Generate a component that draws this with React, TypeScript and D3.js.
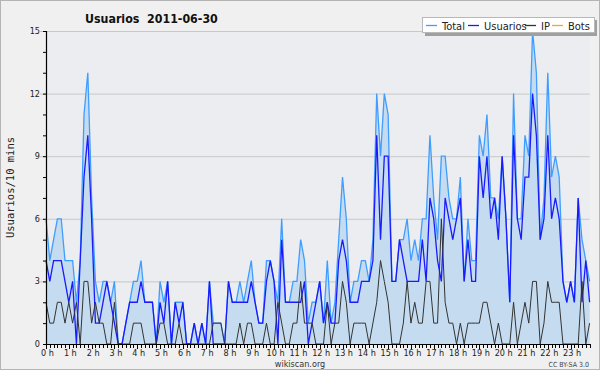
import * as d3 from 'd3';
import React, { useRef, useEffect } from 'react';

// 10-minute slots, 6 per hour, 0 h .. 23 h 50
const usuarios = [
  4, 3, 4, 4, 4, 3,
  2, 3, 0, 4, 8, 10,
  6, 1, 1, 2, 3, 2,
  1, 0, 0, 1, 2, 2,
  2, 3, 2, 2, 2, 0,
  2, 1, 3, 0, 2, 1,
  2, 0, 0, 1, 0, 1,
  0, 3, 0, 0, 0, 0,
  3, 2, 2, 2, 2, 2,
  3, 2, 1, 1, 3, 4,
  3, 0, 5, 2, 2, 2,
  2, 2, 3, 0, 1, 2,
  3, 1, 2, 1, 1, 4,
  5, 4, 2, 2, 2, 3,
  3, 3, 4, 10, 5, 9,
  9, 3, 3, 5, 4, 3,
  3, 3, 3, 5, 3, 7,
  6, 4, 3, 7, 6, 5,
  6, 7, 3, 5, 3, 3,
  9, 7, 9, 6, 7, 5,
  9, 6, 2, 10, 6, 5,
  8, 8, 12, 10, 5, 6,
  10, 6, 7, 6, 3, 2,
  3, 2, 7, 2, 4, 2
];

const ip = [
  2, 1, 1, 2, 2, 1,
  2, 1, 2, 0, 3, 3,
  1, 2, 1, 1, 0, 0,
  2, 0, 0, 0, 0, 1,
  1, 1, 0, 0, 0, 0,
  1, 1, 0, 0, 0, 1,
  0, 0, 0, 0, 0, 0,
  0, 0, 1, 1, 1, 0,
  0, 0, 0, 1, 0, 1,
  1, 0, 0, 0, 1, 0,
  0, 2, 1, 0, 0, 1,
  1, 3, 1, 1, 1, 0,
  0, 0, 2, 0, 1, 1,
  3, 2, 0, 1, 1, 1,
  1, 0, 1, 2, 4, 3,
  2, 0, 0, 0, 1, 3,
  1, 2, 1, 1, 3, 3,
  1, 1, 6, 2, 1, 1,
  0, 1, 0, 1, 1, 1,
  1, 2, 2, 1, 0, 1,
  0, 0, 0, 2, 0, 1,
  2, 1, 3, 3, 0, 1,
  3, 2, 2, 2, 0, 0,
  0, 0, 0, 3, 0, 1
];

const total = [
  6, 4, 5, 6, 6, 4,
  4, 4, 2, 4, 11, 13,
  7, 3, 2, 3, 3, 2,
  3, 0, 0, 1, 2, 3,
  3, 4, 2, 2, 2, 0,
  3, 2, 3, 0, 2, 2,
  2, 0, 0, 1, 0, 1,
  0, 3, 1, 1, 1, 0,
  3, 2, 2, 3, 2, 3,
  4, 2, 1, 1, 4, 4,
  3, 2, 6, 2, 2, 3,
  3, 5, 4, 1, 2, 2,
  3, 1, 4, 1, 2, 5,
  8, 6, 2, 3, 3, 4,
  4, 3, 5, 12, 9, 12,
  11, 3, 3, 5, 5, 6,
  4, 5, 4, 6, 6, 10,
  7, 5, 9, 9, 7, 6,
  6, 8, 3, 6, 4, 4,
  10, 9, 11, 7, 7, 6,
  9, 6, 2, 12, 6, 6,
  10, 9, 15, 13, 5, 7,
  13, 8, 9, 8, 3, 2,
  3, 2, 7, 5, 4, 3
];

const hourLabels = [
  '0 h', '1 h', '2 h', '3 h', '4 h', '5 h', '6 h', '7 h', '8 h', '9 h', '10 h', '11 h',
  '12 h', '13 h', '14 h', '15 h', '16 h', '17 h', '18 h', '19 h', '20 h', '21 h', '22 h', '23 h'
];
const yTicks = [0, 3, 6, 9, 12, 15];

const legendItems = [
  { name: 'Total', color: '#3f9dff' },
  { name: 'Usuarios', color: '#1a1aff' },
  { name: 'IP', color: '#333333' },
  { name: 'Bots', color: '#ffa31a' }
];

const width = 600;
const height = 370;
const plot = { left: 46, right: 589.6, top: 31, bottom: 344 };
const font = '"DejaVu Sans Condensed", "DejaVu Sans", sans-serif';

const App = () => {
  const svgRef = useRef(null);

  useEffect(() => {
    document.body.style.margin = '0';

    const xScale = d3.scaleLinear()
      .domain([0, total.length - 1])
      .range([plot.left, plot.right]);
    const yScale = d3.scaleLinear()
      .domain([0, 15])
      .range([plot.bottom, plot.top]);

    const svg = d3.select(svgRef.current);
    svg.selectAll('*').remove();

    // background + frame
    svg.append('rect')
      .attr('x', 0.5).attr('y', 0.5)
      .attr('width', width - 1).attr('height', height - 1)
      .attr('fill', '#f0f0f0')
      .attr('stroke', '#b4b4b4');
    svg.append('rect')
      .attr('x', plot.left).attr('y', plot.top)
      .attr('width', plot.right - plot.left).attr('height', plot.bottom - plot.top)
      .attr('fill', '#ecedf0');

    // title
    svg.append('text')
      .attr('x', 85).attr('y', 23)
      .attr('font-family', font)
      .attr('font-weight', 'bold')
      .attr('font-size', 12.3)
      .attr('fill', '#111')
      .style('white-space', 'pre')
      .text('Usuarios  2011-06-30');

    // grid
    yTicks.filter(v => v > 0).forEach(v => {
      svg.append('line')
        .attr('x1', plot.left - 6).attr('x2', plot.right)
        .attr('y1', yScale(v) + 0.5).attr('y2', yScale(v) + 0.5)
        .attr('stroke', '#c8c8c8').attr('stroke-width', 1);
    });

    // minor y ticks
    d3.range(0, 16).forEach(v => {
      svg.append('line')
        .attr('x1', plot.left - 3).attr('x2', plot.left)
        .attr('y1', yScale(v) + 0.5).attr('y2', yScale(v) + 0.5)
        .attr('stroke', '#000');
    });

    yTicks.forEach(v => {
      svg.append('text')
        .attr('x', plot.left - 6).attr('y', yScale(v) + 3)
        .attr('text-anchor', 'end')
        .attr('font-family', font).attr('font-size', 9)
        .attr('fill', '#222')
        .text(v);
    });

    // area under total
    svg.append('path')
      .attr('fill', '#c5dcf0')
      .attr('d', d3.area<number>()
        .x((_, i) => xScale(i))
        .y0(yScale(0))
        .y1(d => yScale(d))(total));

    const line = d3.line<number>()
      .x((_, i) => xScale(i))
      .y(d => yScale(d));

    svg.append('path')
      .attr('fill', 'none').attr('stroke', legendItems[0].color).attr('stroke-width', 1.3)
      .attr('d', line(total));
    svg.append('path')
      .attr('fill', 'none').attr('stroke', legendItems[1].color).attr('stroke-width', 1.3)
      .attr('d', line(usuarios));
    svg.append('path')
      .attr('fill', 'none').attr('stroke', legendItems[2].color).attr('stroke-width', 1)
      .attr('d', line(ip));

    // axes
    svg.append('line')
      .attr('x1', plot.left + 0.5).attr('x2', plot.left + 0.5)
      .attr('y1', plot.top).attr('y2', plot.bottom + 1)
      .attr('stroke', '#000').attr('stroke-width', 1.2);
    svg.append('line')
      .attr('x1', plot.left).attr('x2', plot.right + 1)
      .attr('y1', plot.bottom + 0.5).attr('y2', plot.bottom + 0.5)
      .attr('stroke', '#000').attr('stroke-width', 1.2);

    total.forEach((_, i) => {
      svg.append('line')
        .attr('x1', Math.round(xScale(i)) + 0.5).attr('x2', Math.round(xScale(i)) + 0.5)
        .attr('y1', plot.bottom).attr('y2', plot.bottom + (i % 6 === 0 ? 5 : 4))
        .attr('stroke', '#000');
    });

    hourLabels.forEach((label, h) => {
      svg.append('text')
        .attr('x', xScale(h * 6) + 1.5).attr('y', 356)
        .attr('text-anchor', 'middle')
        .attr('font-family', font).attr('font-size', 9)
        .attr('fill', '#222')
        .text(label);
    });

    // y axis name
    svg.append('text')
      .attr('transform', `translate(14,${(plot.top + plot.bottom) / 2}) rotate(-90)`)
      .attr('text-anchor', 'middle')
      .attr('font-family', '"DejaVu Sans Mono", monospace').attr('font-size', 10.5)
      .attr('fill', '#222')
      .text('Usuarios/10 mins');

    // footer
    svg.append('text')
      .attr('x', 300).attr('y', 367)
      .attr('text-anchor', 'middle')
      .attr('font-family', font).attr('font-size', 9)
      .attr('fill', '#333')
      .text('wikiscan.org');
    svg.append('text')
      .attr('x', 589).attr('y', 367)
      .attr('text-anchor', 'end')
      .attr('font-family', font).attr('font-size', 7)
      .attr('fill', '#444')
      .text('CC BY-SA 3.0');

    // legend
    const lg = svg.append('g');
    lg.append('rect')
      .attr('x', 425).attr('y', 20).attr('width', 172).attr('height', 16)
      .attr('fill', '#a0a0a0');
    lg.append('rect')
      .attr('x', 422.5).attr('y', 17.5).attr('width', 172).attr('height', 15)
      .attr('fill', '#fff').attr('stroke', '#b8b8b8');
    const itemX = [426, 468, 525, 552];
    legendItems.forEach((item, k) => {
      lg.append('line')
        .attr('x1', itemX[k]).attr('x2', itemX[k] + 11)
        .attr('y1', 25.5).attr('y2', 25.5)
        .attr('stroke', item.color).attr('stroke-width', 1.3);
      lg.append('text')
        .attr('x', itemX[k] + 16).attr('y', 29.5)
        .attr('font-family', font).attr('font-size', 11)
        .attr('fill', '#222')
        .text(item.name);
    });
  }, []);

  return <svg ref={svgRef} width={width} height={height} style={{ display: 'block' }} />;
};

export default App;
